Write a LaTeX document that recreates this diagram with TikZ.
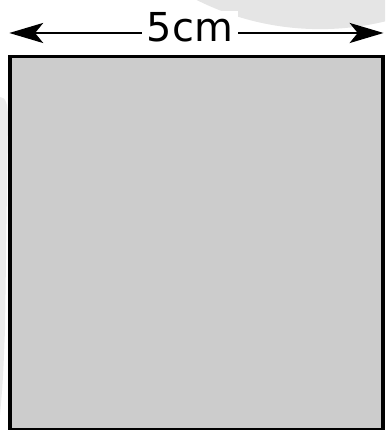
\documentclass[tikz,border=0pt]{standalone}
\usepackage{fontspec}
\newfontfamily\labfont{DejaVu Sans}
\usetikzlibrary{arrows.meta}
\tikzset{
  dimtip/.tip={Stealth[length=0.455cm,width=0.27cm,inset=0.11cm]},
  boxstyle/.style={fill=black!20, draw=black, line width=1.3pt},
  dimarrow/.style={line width=0.5pt, dimtip-dimtip},
  dimlabel/.style={fill=white, inner xsep=2pt, inner ysep=0.5pt, font=\labfont\fontsize{15.2}{18}\selectfont},
  wmark/.style={fill=black!10}
}
\begin{document}
\begin{tikzpicture}[x=0.0134048cm, y=-0.0134048cm]
\useasboundingbox (0,0) rectangle (385,430);
\clip (0,0) rectangle (385,430);
% faint background shapes
\fill[wmark] (320,-246) circle[radius=3.686cm];
\fill[black!8] (0,97) .. controls (6,97) and (8,105) .. (8,118) -- (5,330) .. controls (3,380) .. (0,415) -- cycle;
% square
\draw[boxstyle] (10,429.5) rectangle (383,56.5);
% dimension arrow
\coordinate (L) at (9.3,33);
\coordinate (R) at (383.5,33);
\draw[dimarrow] (L) -- (R);
\node[dimlabel] (lab) at (190,27.2) {5cm};
\end{tikzpicture}
\end{document}
